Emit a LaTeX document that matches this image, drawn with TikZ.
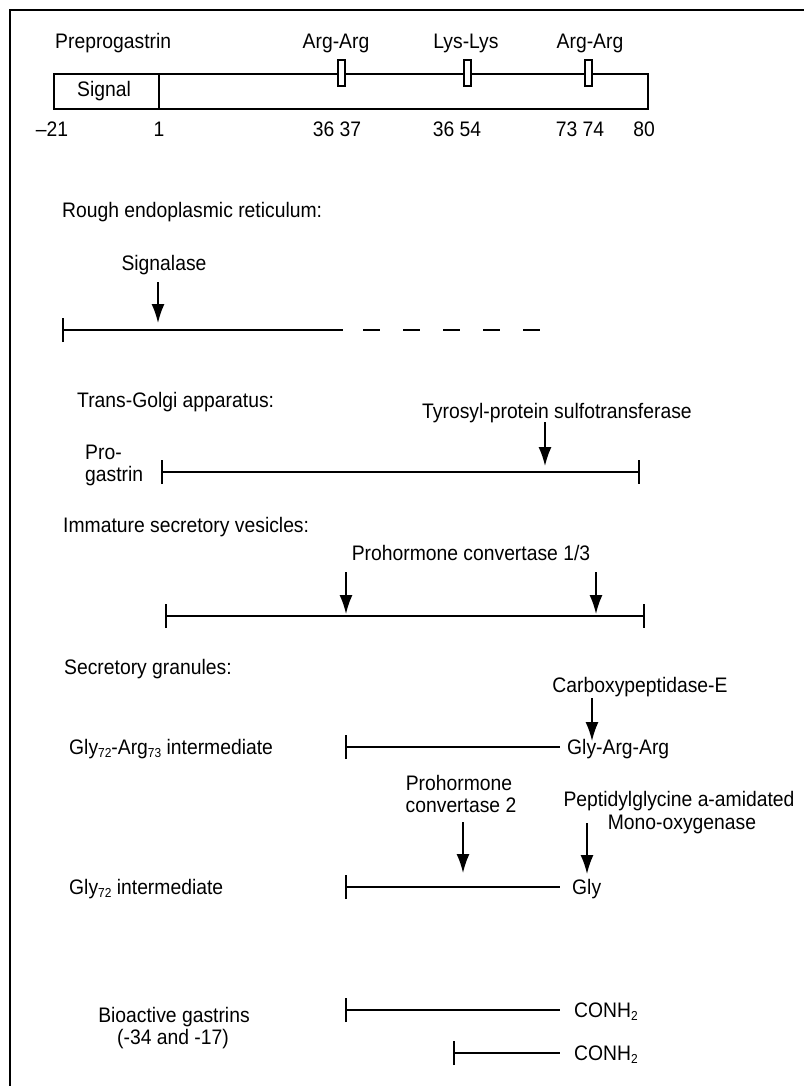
\documentclass[tikz,border=0pt]{standalone}
\usepackage{fontspec}
\setmainfont{Liberation Sans}[FakeStretch=0.92]
\usetikzlibrary{arrows.meta}
\newcommand\sbs[1]{\raisebox{-0.35ex}{\fontsize{13}{13}\selectfont #1}}
\begin{document}
\begin{tikzpicture}[x=1pt,y=-1pt,
  font=\fontsize{21}{22}\selectfont,
  txt/.style={inner sep=0pt, anchor=base west},
  ctxt/.style={inner sep=0pt, anchor=base},
  chain/.style={line width=1.8pt, {Bar[width=24pt]}-},
  chainb/.style={line width=1.8pt, {Bar[width=24pt]}-{Bar[width=24pt]}},
  enz/.style={line width=1.6pt, -{Latex[length=19pt,width=13pt]}},
  site/.style={draw, fill=white, line width=1.2pt, minimum width=7pt, minimum height=26pt, inner sep=0pt},
  ]
\useasboundingbox (0,0) rectangle (804,1086);
% frame
\draw[line width=2.2pt] (10,1086) -- (10,10) -- (804,10);

% preprogastrin
\node[txt] (pre) at (55,49) {Preprogastrin};
\node[ctxt] (aa1) at (336,49) {Arg-Arg};
\node[ctxt] (kk) at (466,49) {Lys-Lys};
\node[ctxt] (aa2) at (590,49) {Arg-Arg};
\node[draw, line width=1.6pt, minimum width=594pt, minimum height=35pt, inner sep=0pt, anchor=north west] (gene) at (53,73) {};
\coordinate (d1) at (159,73);
\coordinate (d2) at (159,108);
\draw[line width=1.6pt] (d1) -- (d2);
\node[ctxt] (sig) at (104,97) {Signal};
\node[site] (s1) at (341.5,73) {};
\node[site] (s2) at (467.5,73) {};
\node[site] (s3) at (588.5,73) {};
\node[ctxt] (n1) at (52,137) {--21};
\node[ctxt] (n2) at (159,137) {1};
\node[ctxt] (n3) at (337,137) {36 37};
\node[ctxt] (n4) at (457,137) {36 54};
\node[ctxt] (n5) at (580,137) {73 74};
\node[ctxt] (n6) at (644,137) {80};

% rough ER
\node[txt] (rer) at (62,217) {Rough endoplasmic reticulum:};
\node[ctxt] (sgl) at (164,270) {Signalase};
\coordinate (sga) at (158,282);
\coordinate (sgb) at (158,323);
\draw[enz] (sga) -- (sgb);
\coordinate (er1) at (62,330);
\coordinate (er2) at (343,330);
\coordinate (er3) at (363,330);
\coordinate (er4) at (541,330);
\draw[chain] (er1) -- (er2);
\draw[line width=1.8pt, dash pattern=on 17pt off 23pt] (er3) -- (er4);

% trans-Golgi
\node[txt] (tg) at (77,407) {Trans-Golgi apparatus:};
\node[txt] (tps) at (422,418) {Tyrosyl-protein sulfotransferase};
\coordinate (tpa) at (545,422);
\coordinate (tpb) at (545,466);
\draw[enz] (tpa) -- (tpb);
\node[txt] (pro1) at (85,459) {Pro-};
\node[txt] (pro2) at (85,481) {gastrin};
\coordinate (pg1) at (161,472);
\coordinate (pg2) at (640,472);
\draw[chainb] (pg1) -- (pg2);

% immature secretory vesicles
\node[txt] (isv) at (63,532) {Immature secretory vesicles:};
\node[ctxt] (pc13) at (471,560) {Prohormone convertase 1/3};
\coordinate (pa1) at (346,572);
\coordinate (pb1) at (346,614);
\coordinate (pa2) at (596,572);
\coordinate (pb2) at (596,614);
\draw[enz] (pa1) -- (pb1);
\draw[enz] (pa2) -- (pb2);
\coordinate (iv1) at (165,616);
\coordinate (iv2) at (645,616);
\draw[chainb] (iv1) -- (iv2);

% secretory granules
\node[txt] (sg) at (64,674) {Secretory granules:};
\node[ctxt] (cpe) at (640,692) {Carboxypeptidase-E};
\coordinate (ca) at (592,698);
\coordinate (cb) at (592,741);
\draw[enz] (ca) -- (cb);
\node[txt] (gai) at (69,754) {Gly\sbs{72}-Arg\sbs{73} intermediate};
\coordinate (ga1) at (345,747);
\coordinate (ga2) at (560,747);
\node[txt] (gaa) at (567,754) {Gly-Arg-Arg};
\draw[chain] (ga1) -- (ga2);

% PC2 and PAM
\node[ctxt] (pc2a) at (459,790) {Prohormone};
\node[ctxt] (pc2b) at (461,812) {convertase 2};
\coordinate (p2a) at (463,822);
\coordinate (p2b) at (463,873);
\draw[enz] (p2a) -- (p2b);
\node[ctxt] (pam1) at (679,806) {Peptidylglycine a-amidated};
\node[ctxt] (pam2) at (682,829) {Mono-oxygenase};
\coordinate (ma) at (587,823);
\coordinate (mb) at (587,874);
\draw[enz] (ma) -- (mb);
\node[txt] (gi) at (69,894) {Gly\sbs{72} intermediate};
\coordinate (g1) at (345,887);
\node[txt] (gly) at (572,894) {Gly};
\coordinate (g2) at (560,887);
\draw[chain] (g1) -- (g2);

% bioactive gastrins
\node[ctxt] (bg1) at (174,1022) {Bioactive gastrins};
\node[ctxt] (bg2) at (173,1044) {(-34 and -17)};
\coordinate (b1) at (345,1010);
\coordinate (b2) at (560,1010);
\node[txt] (c1) at (574,1017) {CONH\sbs{2}};
\draw[chain] (b1) -- (b2);
\coordinate (b3) at (453,1053);
\coordinate (b4) at (560,1053);
\node[txt] (c2) at (574,1060) {CONH\sbs{2}};
\draw[chain] (b3) -- (b4);
\end{tikzpicture}
\end{document}
